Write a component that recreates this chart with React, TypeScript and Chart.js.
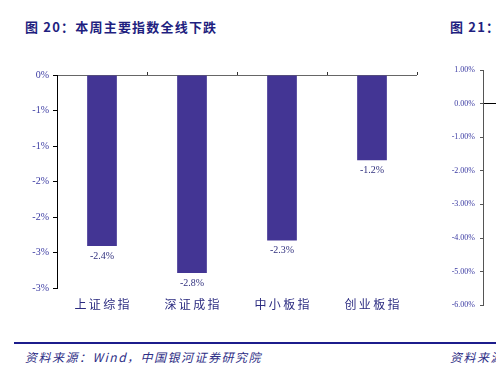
import React, { useEffect, useRef } from "react";
import { Chart, registerables } from "chart.js";

Chart.register(...registerables);

const categories = ["上证综指", "深证成指", "中小板指", "创业板指"];
const weeklyChange = [-2.41, -2.79, -2.33, -1.2];
const leftTicks = { min: -3, max: 0, step: 0.5 };
const rightTicks = { min: -6, max: 1, step: 1 };

const titleLeft = "图 20：本周主要指数全线下跌";
const titleRight = "图 21：";
const sourceLeft = "资料来源：Wind，中国银河证券研究院";
const sourceRight = "资料来源";

const NAVY = "#1f1f80";
const BAR = "#433594";
const TICK_TEXT = "#3a3aa2";

const fmtInt = (v: number) => (v < 0 ? "-" : "") + Math.round(Math.abs(v)) + "%";

const topTickPlugin = {
  id: "topTicks",
  afterDatasetsDraw(chart: any) {
    const { ctx, chartArea, scales } = chart;
    const x = scales.x;
    const n = x.ticks.length;
    ctx.save();
    ctx.strokeStyle = "#333";
    ctx.lineWidth = 1;
    for (let i = 0; i < n; i++) {
      const a = x.getPixelForTick(i);
      const b = i + 1 < n ? x.getPixelForTick(i + 1) : a + (a - x.getPixelForTick(i - 1));
      const px = Math.round((a + b) / 2) + 0.5;
      ctx.beginPath();
      ctx.moveTo(px, chartArea.top - 3);
      ctx.lineTo(px, chartArea.top);
      ctx.stroke();
    }
    ctx.restore();
  },
};

const labelPlugin = {
  id: "barLabels",
  afterDatasetsDraw(chart: any) {
    const { ctx } = chart;
    const meta = chart.getDatasetMeta(0);
    const data = chart.data.datasets[0].data as number[];
    ctx.save();
    ctx.font = "10px 'Liberation Serif', 'Times New Roman', serif";
    ctx.fillStyle = "#30307e";
    ctx.textAlign = "center";
    ctx.textBaseline = "middle";
    meta.data.forEach((el: any, i: number) => {
      ctx.fillText(data[i].toFixed(1) + "%", el.x, el.y + 10);
    });
    ctx.restore();
  },
};

function MainChart() {
  const ref = useRef<HTMLCanvasElement>(null);
  useEffect(() => {
    const chart = new Chart(ref.current!, {
      type: "bar",
      data: {
        labels: categories,
        datasets: [
          {
            data: weeklyChange,
            backgroundColor: BAR,
            borderWidth: 0,
            categoryPercentage: 1,
            barPercentage: 0.33,
          },
        ],
      },
      options: {
        animation: false,
        responsive: false,
        maintainAspectRatio: false,
        layout: { padding: { top: 20, right: 13, left: 0, bottom: 0 } },
        plugins: { legend: { display: false }, tooltip: { enabled: false } },
        scales: {
          x: {
            position: "bottom",
            grid: { display: false },
            border: { display: false },
            ticks: {
              color: "#2b2b80",
              font: { family: "'Noto Sans CJK SC'", size: 12 },
              padding: 1,
              callback: (_v: any, i: number) => categories[i].split("").join("\u2009"),
            },
            afterFit: (s: any) => {
              s.height = 27;
            },
          },
          y: {
            min: leftTicks.min,
            max: leftTicks.max,
            border: { display: true, color: "#000", width: 1 },
            grid: {
              drawTicks: true,
              tickLength: 4,
              tickColor: "#000",
              color: (c: any) => (c.tick && c.tick.value === 0 ? "#666" : "transparent"),
            },
            ticks: {
              stepSize: leftTicks.step,
              color: TICK_TEXT,
              font: { family: "'Liberation Serif', 'Times New Roman', serif", size: 10 },
              padding: 4,
              callback: (v: any) => fmtInt(Number(v)),
            },
            afterFit: (s: any) => {
              s.width = 57;
            },
          },
        },
      },
      plugins: [topTickPlugin, labelPlugin],
    });
    return () => chart.destroy();
  }, []);
  return (
    <canvas
      ref={ref}
      width={430}
      height={260}
      style={{ position: "absolute", left: 0, top: 55, width: 430, height: 260 }}
    />
  );
}

function SideChart() {
  const ref = useRef<HTMLCanvasElement>(null);
  useEffect(() => {
    const chart = new Chart(ref.current!, {
      type: "line",
      data: { labels: [""], datasets: [{ data: [], borderWidth: 0 }] },
      options: {
        animation: false,
        responsive: false,
        maintainAspectRatio: false,
        layout: { padding: { top: 15, right: 0, left: 0, bottom: 6 } },
        plugins: { legend: { display: false }, tooltip: { enabled: false } },
        scales: {
          x: { display: false },
          y: {
            min: rightTicks.min,
            max: rightTicks.max,
            border: { display: true, color: "#555", width: 1 },
            grid: {
              drawTicks: true,
              tickLength: 3,
              tickColor: "#555",
              color: (c: any) => (c.tick && c.tick.value === 0 ? "#000" : "transparent"),
            },
            ticks: {
              stepSize: rightTicks.step,
              color: TICK_TEXT,
              font: { family: "'Liberation Serif', 'Times New Roman', serif", size: 8 },
              padding: 5,
              callback: (v: any) => Number(v).toFixed(2) + "%",
            },
            afterFit: (s: any) => {
              s.width = 63;
            },
          },
        },
      },
    });
    return () => chart.destroy();
  }, []);
  return (
    <canvas
      ref={ref}
      width={200}
      height={260}
      style={{ position: "absolute", left: 420, top: 55, width: 200, height: 260 }}
    />
  );
}

export default function App() {
  const cjk = "'Noto Sans CJK SC', sans-serif";
  return (
    <div
      style={{
        position: "absolute",
        left: 0,
        top: 0,
        width: 496,
        height: 367,
        overflow: "hidden",
        background: "#fff",
      }}
    >
      <div
        style={{
          position: "absolute",
          left: 25,
          top: 18,
          fontFamily: cjk,
          fontWeight: 700,
          fontSize: 13,
          letterSpacing: 1.2,
          color: NAVY,
          whiteSpace: "nowrap",
          lineHeight: "18px",
        }}
      >
        {titleLeft}
      </div>
      <div
        style={{
          position: "absolute",
          left: 450,
          top: 18,
          fontFamily: cjk,
          fontWeight: 700,
          fontSize: 13,
          letterSpacing: 1.2,
          color: NAVY,
          whiteSpace: "nowrap",
          lineHeight: "18px",
        }}
      >
        {titleRight}
      </div>
      <MainChart />
      <SideChart />
      <div
        style={{
          position: "absolute",
          left: 14,
          top: 342,
          width: 482,
          height: 2,
          background: "#1c1c8c",
        }}
      />
      <div
        style={{
          position: "absolute",
          left: 25,
          top: 348,
          fontFamily: cjk,
          fontStyle: "italic",
          fontSize: 12,
          letterSpacing: 1.5,
          color: "#2e2e86",
          whiteSpace: "nowrap",
          lineHeight: "18px",
        }}
      >
        {sourceLeft}
      </div>
      <div
        style={{
          position: "absolute",
          left: 450,
          top: 348,
          fontFamily: cjk,
          fontStyle: "italic",
          fontSize: 12,
          letterSpacing: 1.5,
          color: "#2e2e86",
          whiteSpace: "nowrap",
          lineHeight: "18px",
        }}
      >
        {sourceRight}
      </div>
    </div>
  );
}
